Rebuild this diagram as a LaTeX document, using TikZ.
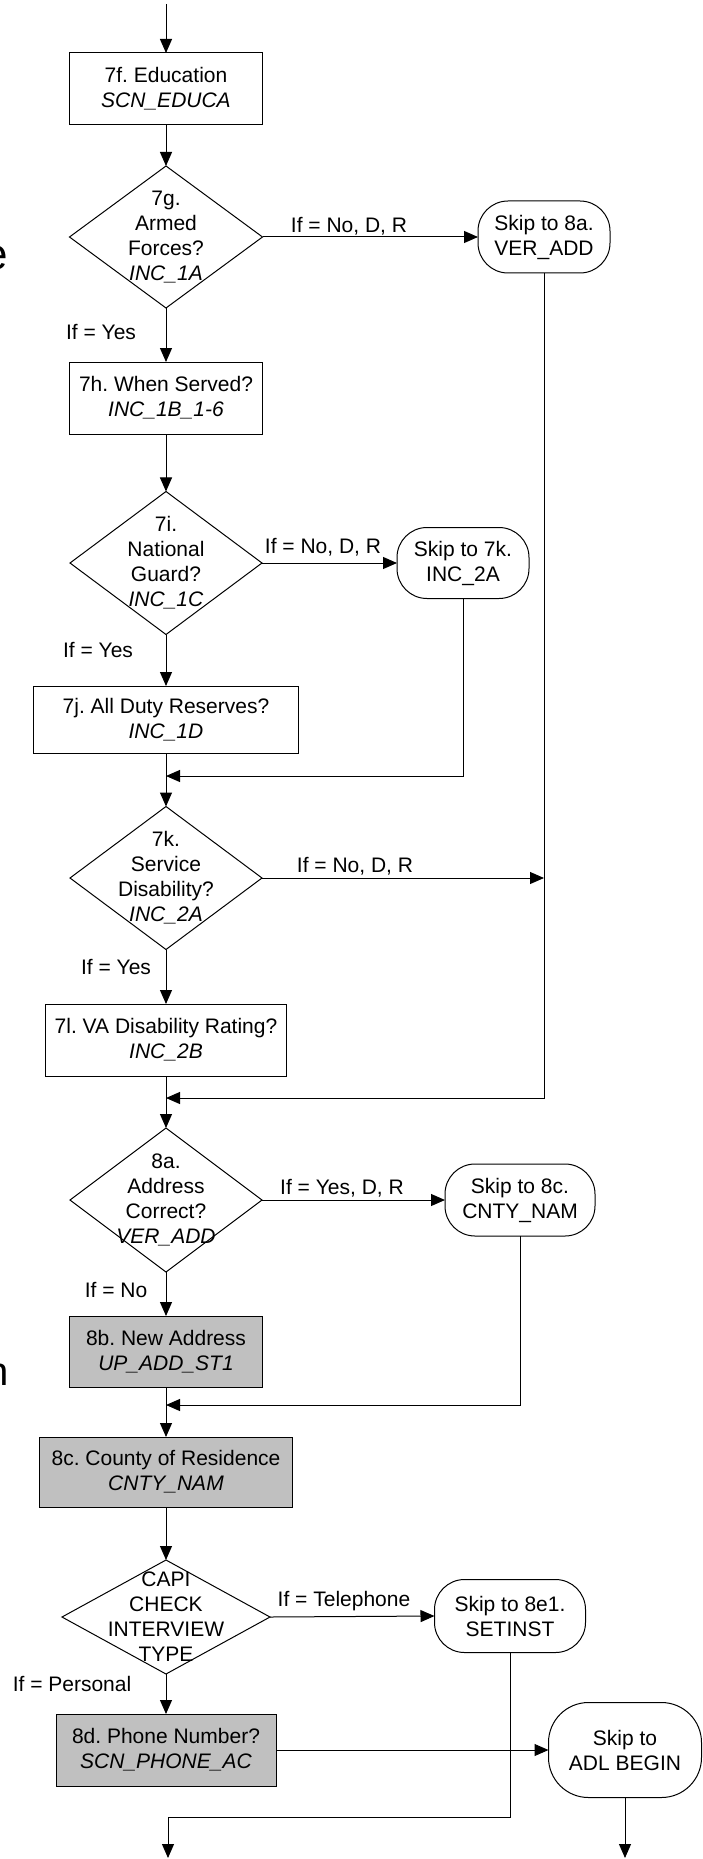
\documentclass[tikz,border=0pt]{standalone}
\usepackage{fontspec}
\setmainfont{Liberation Sans}
\usetikzlibrary{shapes.geometric,arrows.meta}
\definecolor{boxgray}{HTML}{C0C0C0}
\frenchspacing
\begin{document}
\begin{tikzpicture}[x=1pt,y=-1pt,
  font=\fontsize{21}{25}\selectfont, line width=1pt,
  arr/.style={-{Triangle[length=14pt,width=12pt]}},
  proc/.style={draw, rectangle, inner sep=0pt, outer sep=0pt, align=center},
  gproc/.style={proc, fill=boxgray},
  dia/.style={draw, diamond, inner sep=0pt, outer sep=0pt},
  term/.style={draw, rectangle, rounded corners=30pt, inner sep=0pt, outer sep=0pt, align=center},
  lbl/.style={inner sep=0pt, align=center}]
\useasboundingbox (0,0) rectangle (702,1859);
\clip (0,0) rectangle (702,1859);

% fragments at left edge
\node[anchor=base east, inner sep=0pt, font=\fontsize{44}{50}\selectfont] (fe) at (8,270) {e};
\node[anchor=base east, inner sep=0pt, font=\fontsize{40}{48}\selectfont] (fn) at (9,1385) {n};

\coordinate (top) at (166,4);
\node[proc, minimum width=193pt, minimum height=72pt] (f7) at (166,89) {7f. Education\\\textit{SCN\_EDUCA}};

\node[dia, minimum width=193pt, minimum height=142pt] (g7) at (166,237) {};
\node[lbl] (g7t) at (166,237) {7g.\\Armed\\Forces?\\\textit{INC\_1A}};
\node[term, minimum width=132pt, minimum height=72pt] (s8a) at (544,237) {Skip to 8a.\\VER\_ADD};

\node[proc, minimum width=193pt, minimum height=72pt] (h7) at (166,398) {7h. When Served?\\\textit{INC\_1B\_1-6}};

\node[dia, minimum width=192pt, minimum height=143pt] (i7) at (166,563) {};
\node[lbl] (i7t) at (166,563) {7i.\\National\\Guard?\\\textit{INC\_1C}};
\node[term, minimum width=132pt, minimum height=71pt] (s7k) at (463,563) {Skip to 7k.\\INC\_2A};

\node[proc, minimum width=265pt, minimum height=67pt] (j7) at (166,719.5) {7j. All Duty Reserves?\\\textit{INC\_1D}};
\coordinate (m1) at (166,776);

\node[dia, minimum width=192pt, minimum height=143pt] (k7) at (166,878) {};
\node[lbl] (k7t) at (166,878) {7k.\\Service\\Disability?\\\textit{INC\_2A}};

\node[proc, minimum width=241pt, minimum height=72pt] (l7) at (166,1040) {7l. VA Disability Rating?\\\textit{INC\_2B}};
\coordinate (m2) at (166,1098);

\node[dia, minimum width=192pt, minimum height=144pt] (a8) at (166,1200) {};
\node[lbl] (a8t) at (166,1200) {8a.\\Address\\Correct?\\\textit{VER\_ADD}};
\node[term, minimum width=150pt, minimum height=72pt] (s8c) at (520,1200) {Skip to 8c.\\CNTY\_NAM};

\node[gproc, minimum width=193pt, minimum height=71pt] (b8) at (166,1351.5) {8b. New Address\\\textit{UP\_ADD\_ST1}};
\coordinate (m3) at (166,1405);

\node[gproc, minimum width=253pt, minimum height=70pt] (c8) at (166,1472) {8c. County of Residence\\\textit{CNTY\_NAM}};

\node[dia, minimum width=208pt, minimum height=114pt] (capi) at (166,1617) {};
\node[lbl] (capit) at (166,1617) {CAPI\\CHECK\\INTERVIEW\\TYPE};
\node[term, minimum width=151pt, minimum height=73pt] (s8e) at (510,1616) {Skip to 8e1.\\SETINST};

\node[gproc, minimum width=220pt, minimum height=72pt] (d8) at (166,1750) {8d. Phone Number?\\\textit{SCN\_PHONE\_AC}};
\node[term, rounded corners=40pt, minimum width=153pt, minimum height=95pt] (adl) at (625,1750) {Skip to\\ADL BEGIN};

\coordinate (b1) at (168,1817);
\coordinate (b2) at (168,1858);

% labels
\node[lbl] (t1) at (349,226) {If = No, D, R};
\node[lbl] (t2) at (101,332) {If = Yes};
\node[lbl] (t3) at (323,547) {If = No, D, R};
\node[lbl] (t4) at (98,650) {If = Yes};
\node[lbl] (t5) at (355,866) {If = No, D, R};
\node[lbl] (t6) at (116,967) {If = Yes};
\node[lbl] (t7) at (342,1188) {If = Yes, D, R};
\node[lbl] (t8) at (116,1290) {If = No};
\node[lbl] (t9) at (344,1601) {If = Telephone};
\node[lbl] (t10) at (72,1684) {If = Personal};

% connectors
\draw[arr] (top) -- (f7.north);
\draw[arr] (f7) -- (g7);
\draw[arr] (g7.east) -- (s8a.west);
\draw[arr] (g7) -- (h7);
\draw[arr] (h7) -- (i7);
\draw[arr] (i7.east) -- (s7k.west);
\draw[arr] (i7) -- (j7);
\draw[arr] (j7) -- (k7);
\draw[arr] (s7k.south) |- (m1);
\draw[arr] (k7.east) -- (k7.east -| s8a.south);
\draw[arr] (s8a.south) |- (m2);
\draw[arr] (k7) -- (l7);
\draw[arr] (l7) -- (a8);
\draw[arr] (a8.east) -- (s8c.west);
\draw[arr] (a8) -- (b8);
\draw[arr] (s8c.south) |- (m3);
\draw[arr] (b8) -- (c8);
\draw[arr] (c8) -- (capi);
\draw[arr] (capi.east) -- (s8e.west);
\draw[arr] (capi) -- (d8);
\draw[arr] (d8.east) -- (adl.west);
\draw[arr] (s8e.south) |- (b1) -- (b2);
\draw[arr] (adl.south) -- (adl.south |- b2);
\end{tikzpicture}
\end{document}
